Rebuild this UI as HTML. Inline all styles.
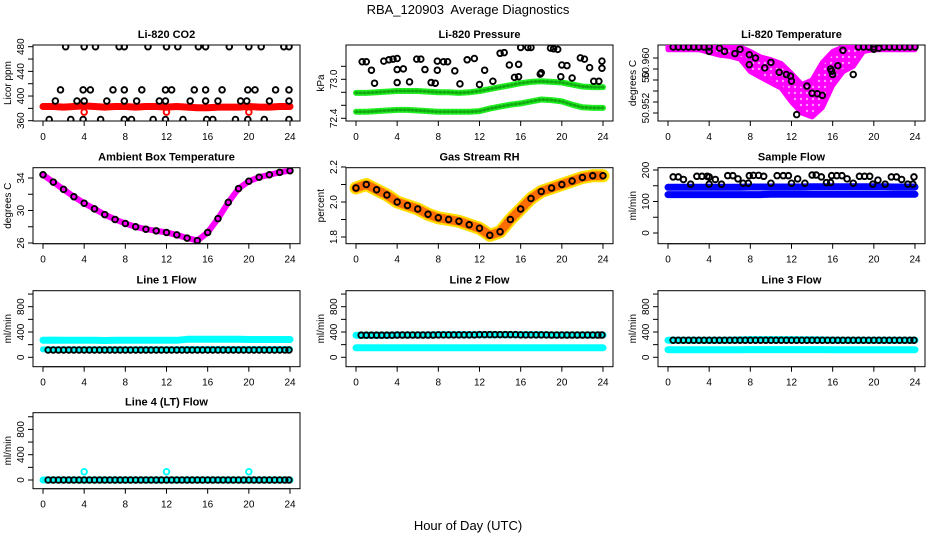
<!DOCTYPE html>
<html><head><meta charset="utf-8"><style>
body{margin:0;background:#fff}
svg{display:block;font-family:"Liberation Sans",Arial,sans-serif}
</style></head><body>
<svg id="chart" width="936" height="540" viewBox="0 0 936 540" xmlns="http://www.w3.org/2000/svg">
<defs>
<pattern id="magpat" width="6" height="6" patternUnits="userSpaceOnUse"><rect width="6" height="6" fill="#ff00ff"/><circle cx="3" cy="3" r="1.2" fill="#ffffff" opacity="0.6"/></pattern>
</defs>
<text x="468" y="14" font-size="13" text-anchor="middle" xml:space="preserve">RBA_120903  Average Diagnostics</text>
<text x="468" y="530" font-size="13" text-anchor="middle">Hour of Day (UTC)</text>
</svg>
<script>
const hours = [0,1,2,3,4,5,6,7,8,9,10,11,12,13,14,15,16,17,18,19,20,21,22,23,24];
const xTicks = [0,4,8,12,16,20,24];
// CO2
const co2Band = [383,383,382,383,384,383,382,383,383,382,383,383,382,383,382,381,381,382,382,382,383,382,382,383,383];
const co2X480 = [2.2,4,5.1,7.4,7.9,10.2,12,13.1,15.1,15.8,18.1,20,21.2,23.4,23.9];
const co2X410 = [1.7,3.9,4.6,6.8,7.9,9.6,11.9,12.5,14.7,15.8,17.4,19.9,20.6,22.6,23.9];
const co2X392 = [1.2,3.3,4,6.2,7.9,9.1,11.3,11.9,14.3,15.8,17,19.2,19.8,22,23.9];
const co2X362 = [0.6,2.7,3.9,5.6,7.9,8.6,10.7,11.9,13.6,15.9,16.5,18.7,19.9,21.5,23.9];
const co2OutX = [4,12,20];
const co2OutY = [374,374,374];
// Pressure
const presUpper = [72.79,72.79,72.80,72.81,72.82,72.82,72.82,72.81,72.80,72.80,72.79,72.80,72.82,72.85,72.88,72.91,72.94,72.96,72.97,72.96,72.95,72.92,72.89,72.88,72.88];
const presLower = [72.50,72.50,72.51,72.52,72.53,72.53,72.52,72.51,72.50,72.50,72.50,72.50,72.51,72.55,72.58,72.61,72.63,72.66,72.69,72.68,72.66,72.61,72.57,72.56,72.56];
const presX = [0.6,1,1.5,1.8,2.7,3.2,3.6,4,4,4,4.6,5.2,5.9,6.3,6.7,7.3,7.7,7.9,7.9,8.5,8.9,9.6,10.1,10.8,11.5,12,12.5,13.3,14,14.4,14.9,15.4,15.8,15.8,16,16.7,17,17.9,18,18.9,19.2,19.6,19.9,20,20.5,21,21.8,22.2,22.7,23.1,23.6,23.9,23.9];
const presY = [73.27,73.27,73.14,72.94,73.28,73.30,73.31,73.32,73.15,72.95,73.16,72.96,73.31,73.31,73.15,72.95,72.94,73.28,73.14,73.27,73.27,73.13,72.93,73.30,73.32,72.92,73.14,72.97,73.40,73.41,73.22,73.03,73.04,73.23,73.49,73.49,73.49,73.08,73.10,73.48,73.47,73.46,73.04,73.22,73.21,73.02,73.33,73.31,73.18,72.97,72.97,73.28,73.17];
// Temperature
const tempHi = [50.9622,50.9622,50.9622,50.9622,50.9622,50.9622,50.9622,50.9620,50.9612,50.9602,50.9597,50.9590,50.9572,50.9552,50.9560,50.9592,50.9612,50.9620,50.9622,50.9622,50.9622,50.9622,50.9622,50.9622,50.9622];
const tempLo = [50.9615,50.9615,50.9615,50.9615,50.9610,50.9605,50.9603,50.9598,50.9575,50.9565,50.9555,50.9545,50.9520,50.9500,50.9493,50.9510,50.9550,50.9575,50.9585,50.9612,50.9615,50.9615,50.9615,50.9615,50.9615];
const tempX = [0.5,1,1.5,2,2.5,3,3.5,4,4,5,5.5,6.5,7,7.9,7.9,8.5,9.4,10,10.8,11.5,11.9,12,12.5,13.5,14,14.5,15,15.8,15.9,16,16.5,17,18,18.5,19,19.5,20,20,20.5,21,21.5,22,22.5,23,23.5,24];
const tempY = [50.9620,50.9620,50.9620,50.9620,50.9620,50.9620,50.9620,50.9620,50.9612,50.9618,50.9612,50.9608,50.9616,50.9606,50.9588,50.9600,50.9582,50.9592,50.9574,50.9570,50.9567,50.9558,50.9497,50.9549,50.9536,50.9535,50.9532,50.9580,50.9576,50.9570,50.9586,50.9614,50.9570,50.9620,50.9620,50.9620,50.9620,50.9616,50.9618,50.9620,50.9620,50.9620,50.9620,50.9620,50.9620,50.9620];
// Ambient
const ambient = [34.4,33.5,32.6,31.7,30.9,30.2,29.5,28.9,28.4,28.0,27.7,27.5,27.3,27.0,26.6,26.3,27.3,29.0,31.0,32.7,33.6,34.1,34.4,34.7,34.9];
// RH
const rh = [2.08,2.10,2.07,2.04,2.00,1.98,1.96,1.93,1.91,1.90,1.89,1.87,1.85,1.81,1.83,1.90,1.96,2.02,2.06,2.08,2.10,2.12,2.14,2.15,2.15];
// Sample flow
const sfUpper = [145,145,145,145,145,145,145,145,146,146,146,146,146,146,147,147,147,147,147,147,147,147,146,146,146];
const sfLower = [122,122,122,122,122,122,122,122,122,122,123,123,123,123,123,123,123,123,123,123,123,123,123,123,123];
const sfX = [0.5,1,1.5,2.2,2.8,3.3,3.8,4,4,4.6,5.2,5.8,6.3,6.8,7.3,7.8,7.9,8.3,8.8,9.3,10,10.6,11.2,11.7,12,12.6,13.3,14,14.4,14.9,15.4,15.8,15.9,16.4,16.9,17.4,18,18.6,19.1,19.6,19.9,20.4,21.1,21.7,22.2,22.7,23.3,23.8,23.9];
const sfY = [178,178,170,155,180,180,180,178,155,170,155,182,182,172,158,158,182,183,183,180,158,182,182,182,158,172,158,184,184,178,160,160,182,182,182,172,158,180,180,180,155,168,155,178,178,170,155,155,178];
// Line flows
const l1Upper = [270,272,268,268,268,268,266,268,268,268,268,268,268,268,285,285,285,285,285,285,282,282,282,282,282];
const l1Lower = [125,125,125,125,125,125,125,125,125,125,125,125,125,125,130,130,130,130,130,130,130,130,130,130,130];
const l1Black = [115,115,115,115,115,115,115,115,115,115,115,115,115,115,115,115,115,115,115,115,115,115,115,115,115];
const l2Upper = [350,350,350,350,352,352,352,352,355,355,355,355,358,358,358,358,355,355,355,352,352,352,352,352,352];
const l2Lower = [150,150,150,150,150,150,150,150,150,150,150,150,150,150,150,150,150,150,150,150,150,150,150,150,150];
const l2Black = [350,350,350,350,352,352,352,352,355,355,355,355,358,358,358,358,355,355,355,352,352,352,352,352,352];
const l3Upper = [270,270,270,270,270,270,272,275,280,280,280,280,280,278,278,275,272,270,270,270,270,270,270,270,270];
const l3Lower = [120,120,120,120,120,120,120,120,122,122,122,122,122,122,122,122,120,120,120,120,120,120,120,120,120];
const l3Black = [270,270,270,270,270,270,270,270,270,270,270,270,270,270,270,270,270,270,270,270,270,270,270,270,270];
const l4Band = [0,0,0,0,0,0,0,0,0,0,0,0,0,0,0,0,0,0,0,0,0,0,0,0,0];
const l4OutX = [4,12,20];
const l4OutY = [130,130,130];

const NS = 'http://www.w3.org/2000/svg';
const svg = document.getElementById('chart');
const colsL = [33,346,658], rowsT = [45,167.7,290.7,412.7], W = 267, H = 76;
function mk(tag, attrs, parent) {
  const e = document.createElementNS(NS, tag);
  for (const k in attrs) e.setAttribute(k, attrs[k]);
  (parent || svg).appendChild(e);
  return e;
}
function panel(id, col, row, title, ylab, v1, p1, v2, p2, yticks, ylabels) {
  const L = colsL[col], T = rowsT[row];
  const g = mk('g', {});
  
  
  const sx = h => L + 10 + h * (W - 20) / 24;
  const sy = v => T + p1 + (v - v1) * (p2 - p1) / (v2 - v1);
  const t = mk('text', {x: L + W / 2, y: T - 7, 'font-size': 11, 'font-weight': 'bold', 'text-anchor': 'middle'}, g);
  t.textContent = title;
  
  
  const yl = mk('text', {x: 0, y: 0, 'font-size': 10, 'text-anchor': 'middle', transform: `translate(${L - 22},${T + H / 2}) rotate(-90)`}, g);
  yl.textContent = ylab;
  
  
  const ax = mk('g', {stroke: '#000', 'stroke-width': 1}, g);
  
  
  mk('line', {x1: sx(0), x2: sx(24), y1: T + H, y2: T + H}, ax);
  xTicks.forEach(h => {
    mk('line', {x1: sx(h), x2: sx(h), y1: T + H, y2: T + H + 5}, ax);
    const tl = mk('text', {x: sx(h), y: T + H + 19, 'font-size': 10, 'text-anchor': 'middle', stroke: 'none'}, g);
    tl.textContent = h;
    
    
  });
  yticks.forEach(v => mk('line', {x1: L - 5, x2: L, y1: sy(v), y2: sy(v)}, ax));
  ylabels.forEach(([v, s]) => {
    const tl = mk('text', {x: 0, y: 0, 'font-size': 10, 'text-anchor': 'middle', transform: `translate(${L - 9},${sy(v)}) rotate(-90)`}, g);
    tl.textContent = s;
    
    
  });
  const frame = mk('rect', {x: L, y: T, width: W, height: H, fill: 'none', stroke: '#000'}, g);
  
  
  const cp = 'clip-' + id;
  const cl = mk('clipPath', {id: cp}, g);
  mk('rect', {x: L, y: T, width: W, height: H}, cl);
  const data = mk('g', {'clip-path': `url(#${cp})`}, g);
  return {g: data, sx, sy};
}
function band(P, ys, color, w, name, dash, op) {
  const d = ys.map((v, i) => (i ? 'L' : 'M') + P.sx(hours[i]).toFixed(1) + ',' + P.sy(v).toFixed(1)).join('');
  const p = mk('path', {d, fill: 'none', stroke: color, 'stroke-width': w, 'stroke-linejoin': 'round', 'stroke-linecap': 'round'}, P.g);
  if (dash) p.setAttribute('stroke-dasharray', dash);
  if (op) p.setAttribute('opacity', op);
  
  
}
function area(P, hi, lo, color, name) {
  let d = hi.map((v, i) => (i ? 'L' : 'M') + P.sx(hours[i]).toFixed(1) + ',' + P.sy(v).toFixed(1)).join('');
  for (let i = lo.length - 1; i >= 0; i--) d += 'L' + P.sx(hours[i]).toFixed(1) + ',' + P.sy(lo[i]).toFixed(1);
  const p = mk('path', {d: d + 'Z', fill: color, stroke: '#ff00ff', 'stroke-width': 5, 'stroke-linejoin': 'round'}, P.g);
  
  
}
function pts(P, xs, ys, color, name) {
  xs.forEach((x, i) => {
    const c = mk('circle', {cx: P.sx(x), cy: P.sy(ys[i]), r: 2.8, fill: 'none', stroke: color, 'stroke-width': 1.9}, P.g);
    
    
  });
}
const rng = (a, b, s) => { const r = []; for (let v = a; v <= b + 1e-9; v += s) r.push(+v.toFixed(4)); return r; };

// Panel 1 CO2
let P = panel('co2', 0, 0, 'Li-820 CO2', 'Licor ppm', 360, 75.7, 480, 1.7, rng(360, 480, 20), [[360, '360'], [400, '400'], [440, '440'], [480, '480']]);
band(P, co2Band, '#ff0000', 7, 'co2-band');
pts(P, co2OutX, co2OutY, '#ff0000', 'co2-outlier');
pts(P, co2X480, co2X480.map(() => 480), '#000', 'co2-point');
pts(P, co2X410, co2X410.map(() => 410), '#000', 'co2-point');
pts(P, co2X392, co2X392.map(() => 392), '#000', 'co2-point');
pts(P, co2X362, co2X362.map(() => 362), '#000', 'co2-point');

// Panel 2 Pressure
P = panel('pressure', 1, 0, 'Li-820 Pressure', 'kPa', 72.4, 73.3, 73.0, 34.3, rng(72.4, 73.2, 0.2), [[72.4, '72.4'], [73.0, '73.0']]);
band(P, presUpper, '#22ee22', 6, 'pressure-upper-band');
band(P, presLower, '#22ee22', 6, 'pressure-lower-band');
band(P, presUpper, '#006600', 3, 'pressure-upper-stipple', '1 3', 0.5);
band(P, presLower, '#006600', 3, 'pressure-lower-stipple', '1 3', 0.5);
pts(P, presX, presY, '#000', 'pressure-point');

// Panel 3 Temperature
P = panel('temperature', 2, 0, 'Li-820 Temperature', 'degrees C', 50.95, 68, 50.96, 13, rng(50.95, 50.96, 0.002), [[50.9509, '50.952'], [50.9565, '50'], [50.9591, '50.960']]);
area(P, tempHi, tempLo, 'url(#magpat)', 'temperature-band');
pts(P, tempX, tempY, '#000', 'temperature-point');

// Panel 4 Ambient
P = panel('ambient', 0, 1, 'Ambient Box Temperature', 'degrees C', 26, 75.3, 34, 10.3, rng(26, 34, 2), [[26, '26'], [30, '30'], [34, '34']]);
band(P, ambient, '#ff00ff', 6, 'ambient-band');
pts(P, hours, ambient, '#000', 'ambient-point');

// Panel 5 RH
P = panel('rh', 1, 1, 'Gas Stream RH', 'percent', 1.8, 69.3, 2.2, -0.7, rng(1.8, 2.2, 0.1), [[1.8, '1.8'], [2.0, '2.0'], [2.2, '2.2']]);
band(P, rh, '#ffdd00', 13, 'rh-band');
band(P, rh, '#ff2200', 9, 'rh-stipple', '1 3', 0.6);
pts(P, hours, rh, '#000', 'rh-point');

// Panel 6 Sample flow
P = panel('sample-flow', 2, 1, 'Sample Flow', 'ml/min', 0, 65.3, 200, 2.3, rng(0, 200, 50), [[0, '0'], [100, '100'], [200, '200']]);
band(P, sfUpper, '#0000ff', 7, 'sample-flow-upper-band');
band(P, sfLower, '#0000ff', 7, 'sample-flow-lower-band');
pts(P, sfX, sfY, '#000', 'sample-flow-point');

const flowTicks = rng(0, 1000, 200), flowLabels = [[0, '0'], [400, '400'], [800, '800']];
// Line 1
P = panel('line1', 0, 2, 'Line 1 Flow', 'ml/min', 0, 66.6, 800, 16, flowTicks, flowLabels);
band(P, l1Upper, '#00ffff', 7, 'line1-upper-band');
band(P, l1Lower, '#00ffff', 6, 'line1-lower-band');
pts(P, hours.map(h => h + 0.5).slice(0, 24).concat([23.9]), l1Black, '#000', 'line1-point');
pts(P, hours.map(h => h).slice(1, 24), l1Black.slice(1, 24), '#000', 'line1-point');
// Line 2
P = panel('line2', 1, 2, 'Line 2 Flow', 'ml/min', 0, 66.6, 800, 16, flowTicks, flowLabels);
band(P, l2Upper, '#00ffff', 7, 'line2-upper-band');
band(P, l2Lower, '#00ffff', 7, 'line2-lower-band');
pts(P, hours.map(h => h + 0.5).slice(0, 24).concat([23.9]), l2Black, '#000', 'line2-point');
pts(P, hours.slice(1, 24), l2Black.slice(1, 24), '#000', 'line2-point');
// Line 3
P = panel('line3', 2, 2, 'Line 3 Flow', 'ml/min', 0, 66.6, 800, 16, flowTicks, flowLabels);
band(P, l3Upper, '#00ffff', 7, 'line3-upper-band');
band(P, l3Lower, '#00ffff', 7, 'line3-lower-band');
pts(P, hours.map(h => h + 0.5).slice(0, 24).concat([23.9]), l3Black, '#000', 'line3-point');
pts(P, hours.slice(1, 24), l3Black.slice(1, 24), '#000', 'line3-point');
// Line 4
P = panel('line4', 0, 3, 'Line 4 (LT) Flow', 'ml/min', 0, 67.3, 800, 16.7, flowTicks, flowLabels);
band(P, l4Band, '#00ffff', 7, 'line4-band');
pts(P, l4OutX, l4OutY, '#00ffff', 'line4-outlier');
pts(P, hours.map(h => h + 0.5).slice(0, 24).concat([23.9]), l4Band, '#000', 'line4-point');
pts(P, hours.slice(1, 24), l4Band.slice(1, 24), '#000', 'line4-point');
</script>
</body></html>
